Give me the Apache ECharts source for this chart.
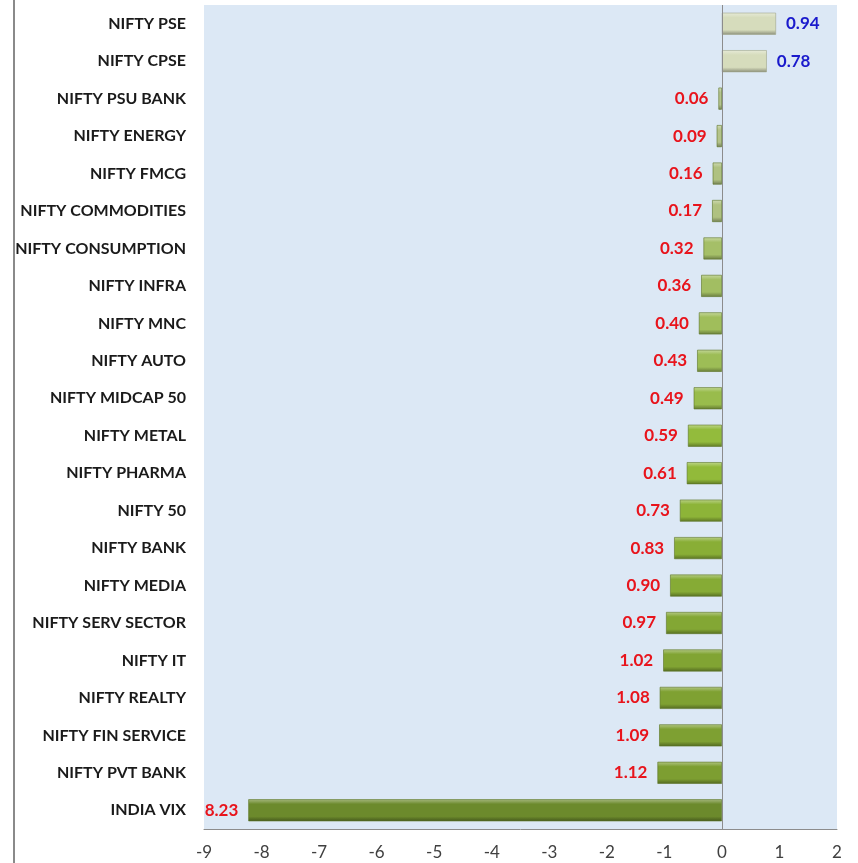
<!DOCTYPE html>
<html>
<head>
<meta charset="utf-8">
<script src="https://cdn.jsdelivr.net/npm/echarts@6/dist/echarts.min.js"></script>
<style>
html,body{margin:0;padding:0;background:#fff;}
#chart{width:858px;height:863px;}
</style>
</head>
<body>
<div id="chart"></div>
<script>
// Categories listed bottom to top
const categories = [
  "INDIA VIX", "NIFTY PVT BANK", "NIFTY FIN SERVICE", "NIFTY REALTY", "NIFTY IT",
  "NIFTY SERV SECTOR", "NIFTY MEDIA", "NIFTY BANK", "NIFTY 50", "NIFTY PHARMA",
  "NIFTY METAL", "NIFTY MIDCAP 50", "NIFTY AUTO", "NIFTY MNC", "NIFTY INFRA",
  "NIFTY CONSUMPTION", "NIFTY COMMODITIES", "NIFTY FMCG", "NIFTY ENERGY",
  "NIFTY PSU BANK", "NIFTY CPSE", "NIFTY PSE"
];
const changes = [
  -8.23, -1.12, -1.09, -1.08, -1.02,
  -0.97, -0.90, -0.83, -0.73, -0.61,
  -0.59, -0.49, -0.43, -0.40, -0.36,
  -0.32, -0.17, -0.16, -0.09,
  -0.06, 0.78, 0.94
];
const xTicks = { min: -9, max: 2, step: 1 };

function mix(a, b, t) {
  const pa = a.match(/\w\w/g).map(h => parseInt(h, 16));
  const pb = b.match(/\w\w/g).map(h => parseInt(h, 16));
  return '#' + pa.map((v, i) => Math.round(v + (pb[i] - v) * t).toString(16).padStart(2, '0')).join('');
}
function barColor(v) {
  let base;
  if (v >= 0) base = '#d6dcbc';
  else {
    const m = Math.abs(v);
    if (m < 0.2) base = mix('b9c596', 'adc07c', m / 0.2);
    else if (m < 0.6) base = mix('adc07c', '92bb3a', (m - 0.2) / 0.4);
    else if (m < 1.2) base = mix('92bb3a', '7a9a30', (m - 0.6) / 0.6);
    else base = '#6c8a2c';
  }
  const c = base.slice(1);
  return {
    type: 'linear', x: 0, y: 0, x2: 0, y2: 1,
    colorStops: [
      { offset: 0, color: mix(c, 'ffffff', 0.4) },
      { offset: 0.22, color: base },
      { offset: 0.78, color: base },
      { offset: 1, color: mix(c, '000000', 0.35) }
    ]
  };
}

const chart = echarts.init(document.getElementById('chart'));
chart.setOption({
  animation: false,
  backgroundColor: '#ffffff',
  graphic: [{
    type: 'line', shape: { x1: 14, y1: 0, x2: 14, y2: 863 },
    style: { stroke: '#8a8a8a', lineWidth: 2 }
  }],
  grid: {
    left: 204, right: 21, top: 5, bottom: 34,
    show: true, backgroundColor: '#dce8f5', borderWidth: 0
  },
  xAxis: {
    type: 'value', min: xTicks.min, max: xTicks.max, interval: xTicks.step,
    axisLine: { show: true, lineStyle: { color: '#8c8c8c', width: 1 } },
    axisTick: { show: false },
    splitLine: { show: false },
    axisLabel: { margin: 15, color: '#404040', fontSize: 17, fontFamily: 'Lato' }
  },
  yAxis: {
    type: 'category', data: categories,
    axisLine: { show: false }, axisTick: { show: false },
    axisLabel: { margin: 18, color: '#1a1a1a', fontSize: 16, fontWeight: 'bold', fontFamily: 'Lato' }
  },
  series: [{
    type: 'bar',
    barWidth: 22,
    data: changes.map(v => ({
      value: v,
      itemStyle: { color: barColor(v), borderColor: v >= 0 ? '#9fa68a' : '#5a7424', borderWidth: 0.6 },
      label: {
        show: true,
        position: v >= 0 ? 'right' : 'left',
        distance: 10,
        color: v >= 0 ? '#1a1acc' : '#e8141c',
        fontSize: 17, fontWeight: 'bold', fontFamily: 'Lato',
        formatter: () => Math.abs(v).toFixed(2)
      }
    })),
    markLine: {
      silent: true, symbol: 'none', label: { show: false },
      lineStyle: { color: '#8c8c8c', type: 'solid', width: 1 },
      data: [{ xAxis: 0 }]
    }
  }]
});
</script>
</body>
</html>
